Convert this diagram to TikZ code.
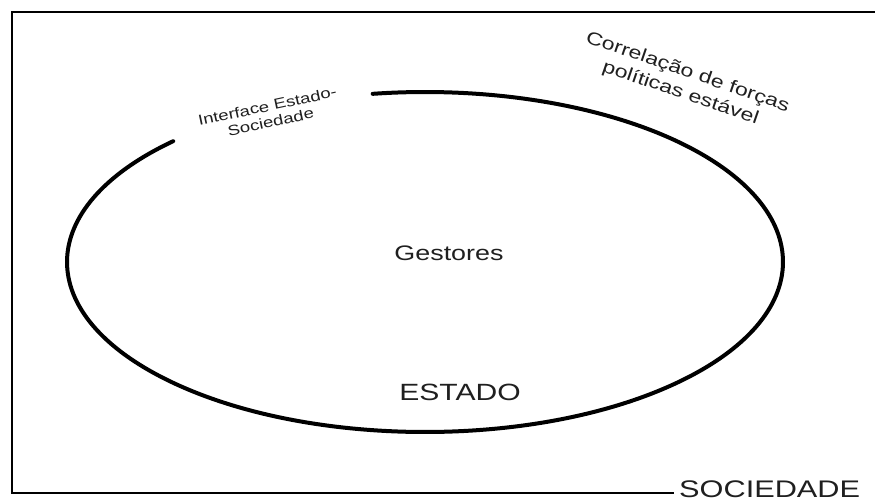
\documentclass[tikz,border=0pt]{standalone}
\usepackage{fontspec}
\setmainfont{Liberation Sans}[FakeStretch=1.28]
\begin{document}
\begin{tikzpicture}[x=1pt,y=1pt,
  frame/.style={line width=2.2pt,line cap=rect},
  estado/.style={line width=4pt,line cap=round},
  lbl/.style={inner sep=0pt,text=black!88,align=center}]
\useasboundingbox (0,0) rectangle (875,499);
% frame (SOCIEDADE)
\coordinate (tr) at (875,487);
\coordinate (tl) at (12,487);
\coordinate (bl) at (12,6);
\node[lbl,anchor=base west,font=\fontsize{24}{28}\selectfont] (soc) at (679,2) {SOCIEDADE};
\draw[frame] (tr) -- (tl) -- (bl) -- ([xshift=-6pt]bl -| soc.west);
% ESTADO ellipse (open arc)
\coordinate (c) at (425,237);
\draw[estado] (c) ++(134.7:358 and 170) arc[start angle=134.7,end angle=458.4,x radius=358,y radius=170];
% labels
\node[lbl,font=\fontsize{21}{25}\selectfont] (gest) at (449,246) {Gestores};
\node[lbl,font=\fontsize{23.5}{28}\selectfont] (est) at (460,107) {ESTADO};
\node[lbl,rotate=-19,font=\fontsize{18}{22}\selectfont] (corr) at (684,416) {Correlação de forças\\políticas estável};
\node[lbl,rotate=12,font=\fontsize{14.5}{16}\selectfont] (intf) at (269,385) {Interface Estado-\\Sociedade};
\end{tikzpicture}
\end{document}
